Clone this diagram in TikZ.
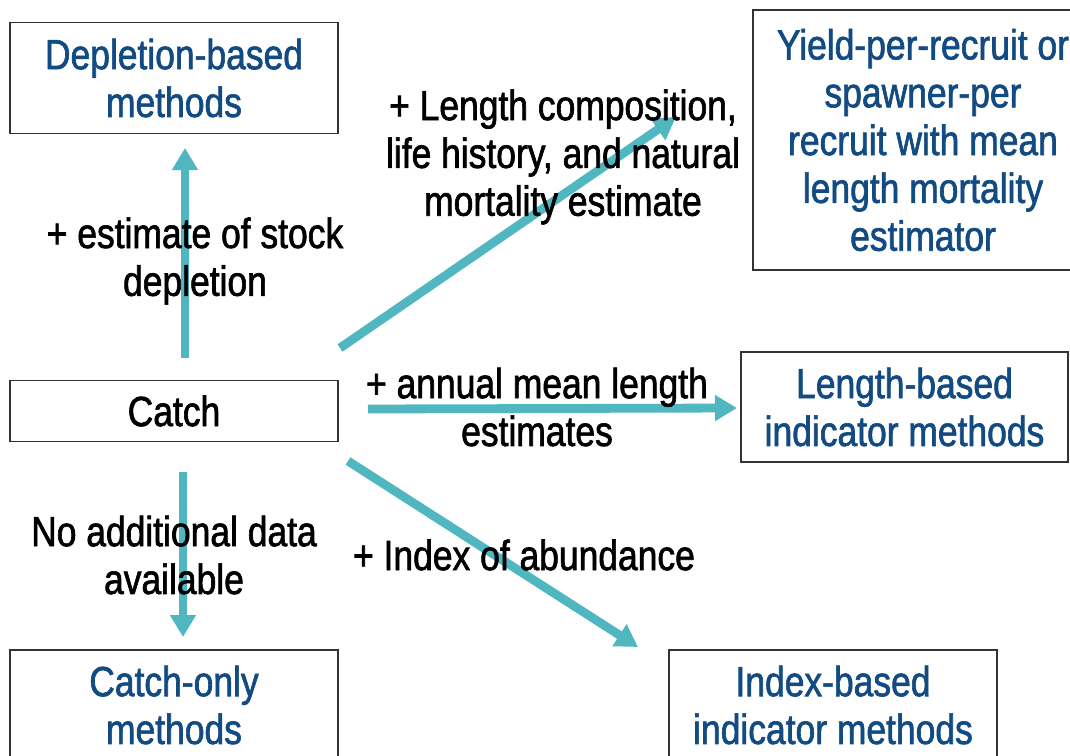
\documentclass[tikz,border=0pt]{standalone}
\usepackage{fontspec}
\setmainfont[FakeStretch=0.84,FakeBold=1.5]{Liberation Sans}
\usepackage{xcolor}
\usetikzlibrary{arrows.meta}

\definecolor{boxblue}{RGB}{18,74,130}
\definecolor{flowteal}{RGB}{80,182,192}

\tikzset{
  methodbox/.style={draw=black!80, line width=0.04cm, text=boxblue, align=center,
    font=\fontsize{30}{34}\selectfont, inner sep=0pt},
  label/.style={text=black, align=center, font=\fontsize{30}{34}\selectfont, inner sep=0pt},
  flow/.style={flowteal, line width=0.22cm, -{Triangle[length=0.55cm,width=0.62cm]}}
}

\begin{document}
\begin{tikzpicture}[x=0.025cm,y=-0.025cm]
    \useasboundingbox (0,0) rectangle (1070,755);
    \clip (0,0) rectangle (1070,755);

    % Arrows first, labels go on top
    \coordinate (upstart) at (185,358);
    \coordinate (upend) at (185,148);
    \coordinate (downstart) at (183,472);
    \coordinate (downend) at (183,637);
    \coordinate (rightstart) at (368,409);
    \coordinate (rightend) at (737,408);
    \coordinate (nestart) at (340,348);
    \coordinate (neend) at (676,117);
    \coordinate (sestart) at (348,461);
    \coordinate (seend) at (638,647);

    \draw[flow] (upstart) -- (upend);
    \draw[flow] (downstart) -- (downend);
    \draw[flow] (rightstart) -- (rightend);
    \draw[flow] (nestart) -- (neend);
    \draw[flow] (sestart) -- (seend);

    % Boxes
    \node[methodbox, minimum width=8.2cm, minimum height=2.775cm] (depletion) at (174,78)
        {Depletion-based\\methods};
    \node[methodbox, minimum width=8.2cm, minimum height=1.525cm] (catch) at (174,411)
        {\textcolor{black}{Catch}};
    \node[methodbox, minimum width=8.2cm, minimum height=2.75cm] (catchonly) at (174,705)
        {Catch-only\\methods};
    \node[methodbox, minimum width=8.2cm, minimum height=2.75cm] (indexbased) at (833,705)
        {Index-based\\indicator methods};
    \node[methodbox, minimum width=8.175cm, minimum height=2.75cm] (lengthbased) at (904.5,407)
        {Length-based\\indicator methods};
    \node[methodbox, minimum width=8.5cm, minimum height=6.5cm] (yield) at (923,140)
        {Yield-per-recruit or\\spawner-per\\recruit with mean\\length mortality\\estimator};

    % Labels on arrows
    \node[label] (stocklab) at (195,261) {+ estimate of stock\\depletion};
    \node[label] (lengthlab) at (563,157) {+ Length composition,\\life history, and natural\\mortality estimate};
    \node[label] (meanlab) at (537,407) {+ annual mean length\\estimates};
    \node[label] (nodatalab) at (174,555) {No additional data\\available};
    \node[label] (indexlab) at (524,555) {+ Index of abundance};
\end{tikzpicture}
\end{document}
